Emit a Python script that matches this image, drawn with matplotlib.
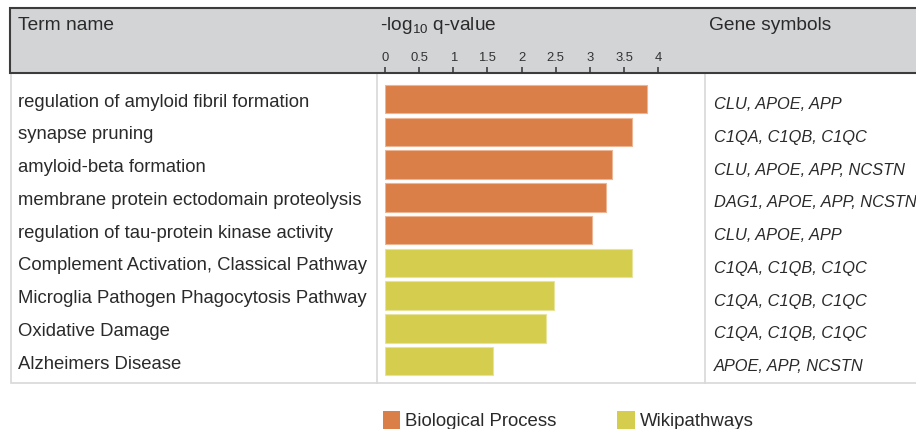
import matplotlib
matplotlib.use("Agg")
import matplotlib.pyplot as plt
from matplotlib import transforms
from matplotlib.patches import Rectangle

plt.rcParams['font.family'] = ['Liberation Sans', 'DejaVu Sans']
plt.rcParams['mathtext.fontset'] = 'custom'
plt.rcParams['mathtext.rm'] = 'Liberation Sans'
plt.rcParams['mathtext.it'] = 'Liberation Sans:italic'
plt.rcParams['mathtext.default'] = 'regular'

# ---- data ----
terms = [
    "regulation of amyloid fibril formation",
    "synapse pruning",
    "amyloid-beta formation",
    "membrane protein ectodomain proteolysis",
    "regulation of tau-protein kinase activity",
    "Complement Activation, Classical Pathway",
    "Microglia Pathogen Phagocytosis Pathway",
    "Oxidative Damage",
    "Alzheimers Disease",
]
neg_log_q = [3.83, 3.62, 3.32, 3.23, 3.03, 3.61, 2.48, 2.35, 1.58]
genes = [
    "CLU, APOE, APP",
    "C1QA, C1QB, C1QC",
    "CLU, APOE, APP, NCSTN",
    "DAG1, APOE, APP, NCSTN",
    "CLU, APOE, APP",
    "C1QA, C1QB, C1QC",
    "C1QA, C1QB, C1QC",
    "C1QA, C1QB, C1QC",
    "APOE, APP, NCSTN",
]
sources = ["Biological Process"] * 5 + ["Wikipathways"] * 4
source_names = ["Biological Process", "Wikipathways"]
xticks = [0, 0.5, 1, 1.5, 2, 2.5, 3, 3.5, 4]
xtick_labels = ["0", "0.5", "1", "1.5", "2", "2.5", "3", "3.5", "4"]

# ---- styles ----
W, H = 916, 429
palette = {"Biological Process": "#d97f47", "Wikipathways": "#d4cd4d"}
edge = {"Biological Process": "#ecb594", "Wikipathways": "#e8e39a"}
text_c = "#2a2a2a"
header_fill = "#d3d4d6"
header_edge = "#3c3c3c"
grid_c = "#d8d8d8"


def frac_rect(x0, y0, x1, y1):
    """Pixel box (top-left origin) -> figure fraction rect."""
    return [x0 / W, 1 - y1 / H, (x1 - x0) / W, (y1 - y0) / H]


fig = plt.figure(figsize=(W / 100, H / 100), dpi=100)
fig.patch.set_facecolor("white")

# background layer in pixel units for the table frame
bg = fig.add_axes([0, 0, 1, 1])
bg.set_xlim(0, W)
bg.set_ylim(H, 0)
bg.axis("off")

# body frame
bg.add_patch(Rectangle((10.7, 73), 930, 310, facecolor="white",
                       edgecolor=grid_c, lw=1.2, zorder=1))
bg.plot([376.7, 376.7], [73, 383], color=grid_c, lw=1.2, zorder=2)
bg.plot([705, 705], [73, 383], color=grid_c, lw=1.2, zorder=2)
# header band
bg.add_patch(Rectangle((10, 7.5), 930, 65.5, facecolor=header_fill,
                       edgecolor=header_edge, lw=1.5, zorder=3))

bg.text(18, 29.5, "Term name", fontsize=13.8, color=text_c, va="baseline", zorder=4)
bg.text(380, 30, "-log$_{10}$ q-value", fontsize=13.8, color=text_c, va="baseline", zorder=4)
bg.text(709, 30, "Gene symbols", fontsize=13.8, color=text_c, va="baseline", zorder=4)

# legend
for name, x0 in zip(source_names, [382.6, 617.4]):
    bg.add_patch(Rectangle((x0, 411), 17.8, 22, facecolor=palette[name],
                           edgecolor="none", zorder=4))
    bg.text(x0 + 22.2, 426.5, name, fontsize=13.4, color=text_c,
            va="baseline", zorder=4)

# bar panel: 0..4 spans x 385..658 px, rows 32.75 px apart
ax = fig.add_axes(frac_rect(385, 73, 658.2, 377.6))
ax.patch.set_alpha(0)
ax.set_xlim(0, 4)
ax.set_ylim(8.5, -0.8)
rows = list(range(len(terms)))
ax.barh(rows, neg_log_q, height=0.87,
        color=[palette[s] for s in sources],
        edgecolor=[edge[s] for s in sources], linewidth=0.8, zorder=3)

ax.xaxis.tick_top()
ax.set_xticks(xticks)
ax.set_xticklabels(xtick_labels)
ax.tick_params(axis="x", top=True, bottom=False, direction="out",
               length=4.3, width=1.1, color="#333333", pad=2.5,
               labelsize=9.4, labelcolor="#333333")
ax.set_yticks([])
for s in ax.spines.values():
    s.set_visible(False)

# row labels, placed on the row positions of the bar panel
term_tr = transforms.blended_transform_factory(fig.transFigure, ax.transData) + \
    transforms.ScaledTranslation(0, -0.075, fig.dpi_scale_trans)
gene_tr = transforms.blended_transform_factory(fig.transFigure, ax.transData) + \
    transforms.ScaledTranslation(0, -0.10, fig.dpi_scale_trans)
for r, t, g in zip(rows, terms, genes):
    ax.text(18 / W, r, t, transform=term_tr, fontsize=13.3, color=text_c,
            va="baseline", ha="left", clip_on=False)
    ax.text(714 / W, r, g, transform=gene_tr, fontsize=11.8, color=text_c,
            style="italic", va="baseline", ha="left", clip_on=False)

fig.savefig("out.png", dpi=100)
